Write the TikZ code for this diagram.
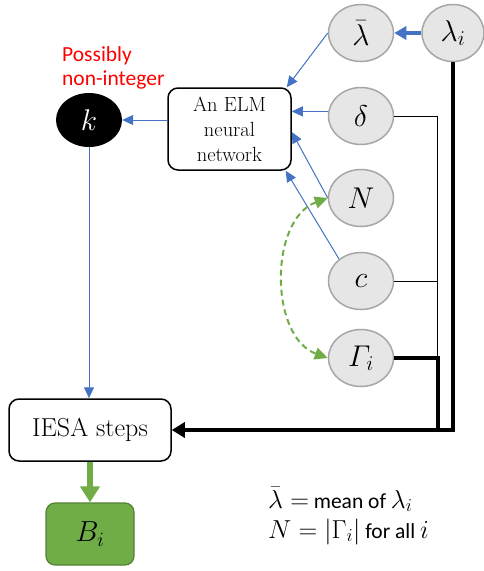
\RequirePackage{fix-cm}
\documentclass[tikz,border=0pt]{standalone}
\usepackage{amsmath}
\usepackage{fontspec}
\newfontfamily\calib{Carlito}
\usetikzlibrary{shapes.geometric,arrows.meta}
\definecolor{oblue}{HTML}{4472C4}
\definecolor{ogreen}{HTML}{70AD47}
\definecolor{dgreen}{HTML}{548235}
\definecolor{efill}{HTML}{E6E6E6}
\definecolor{egray}{HTML}{A6A6A6}
\newcommand{\lgm}[1]{{\fontsize{26}{30}\selectfont$#1$}}
\begin{document}
\begin{tikzpicture}[x=1pt,y=-1pt,
  varnode/.style={ellipse, draw=egray, line width=1.5pt, fill=efill, minimum width=65pt, minimum height=57pt, inner sep=0pt, font=\fontsize{30}{34}\selectfont},
  elmbox/.style={draw, rounded corners=10pt, line width=1.5pt, minimum width=123pt, minimum height=82pt, inner sep=0pt, align=center, font=\fontsize{20.5}{25}\selectfont},
  kdot/.style={ellipse, fill=black, text=white, minimum width=66pt, minimum height=54pt, inner sep=0pt, font=\fontsize{30}{34}\selectfont},
  iesabox/.style={draw, rounded corners=10pt, line width=1.5pt, minimum width=162pt, minimum height=62pt, inner sep=0pt, font=\fontsize{26}{30}\selectfont},
  bbox/.style={draw=dgreen, fill=ogreen, rounded corners=9pt, line width=1.2pt, minimum width=88pt, minimum height=62pt, inner sep=0pt, font=\fontsize{29}{32}\selectfont},
  redtext/.style={text=red, inner sep=0pt, anchor=base west, font=\calib\fontsize{21.5}{25}\selectfont},
  legtext/.style={inner sep=0pt, anchor=base west, font=\calib\fontsize{21.5}{25}\selectfont},
  bluearrow/.style={draw=oblue, line width=1pt, -{Triangle[length=11pt,width=10pt]}, color=oblue},
  bluethick/.style={draw=oblue, line width=4pt, -{Triangle[length=12pt,width=13pt]}, color=oblue},
  greendash/.style={draw=ogreen, line width=2pt, dash pattern=on 6pt off 4pt, {Triangle[length=13pt,width=12pt]}-{Triangle[length=13pt,width=12pt]}, color=ogreen},
  greenarrow/.style={draw=ogreen, line width=6pt, -{Triangle[length=16pt,width=19pt]}, color=ogreen},
  thinblack/.style={draw=black, line width=1pt},
  thickblack/.style={draw=black, line width=4pt, line join=miter}
]
\useasboundingbox (0,0) rectangle (483,571);
% variable nodes
\node[varnode] (lb) at (361,33) {$\bar{\lambda}$};
\node[varnode, minimum width=62pt] (li) at (453,33) {$\lambda_i$};
\node[varnode] (d) at (361,116) {$\delta$};
\node[varnode] (N) at (361,198) {$N$};
\node[varnode] (c) at (361,281) {$c$};
\node[varnode] (G) at (361,358) {$\varGamma_i$};
% main boxes
\node[elmbox] (elm) at (229.5,129) {An ELM\\neural\\network};
\node[kdot] (k) at (89,120) {$k$};
\node[iesabox] (iesa) at (90,430) {IESA steps};
\node[bbox] (B) at (90,534) {$B_i$};
% labels
\node[redtext] (p1) at (62,61) {Possibly};
\node[redtext] (p2) at (62,85) {non-integer};
\node[legtext] (l1) at (268,508) {\lgm{\bar{\lambda} =} mean of \lgm{\lambda_i}};
\node[legtext] (l2) at (268,538) {\lgm{N = |\Gamma_i|} for all \lgm{i}};
% blue connectors
\draw[bluethick] (li.west) -- (lb.east);
\draw[bluearrow] (lb.west) -- ([xshift=-5pt]elm.north east);
\draw[bluearrow] (d.172) -- (d.172 -| elm.east);
\draw[bluearrow] (N.west) -- ([yshift=-3pt]elm.east);
\draw[bluearrow] (c.135) -- ([xshift=-6pt]elm.south east);
\draw[bluearrow] (elm.west |- k.east) -- (k.east);
\draw[bluearrow] (k.south) -- (k.south |- iesa.north);
% green
\draw[greendash] (N.west) to[bend right=70] (G.west);
\draw[greenarrow] (iesa.south) -- (B.north);
% black trunk lines
\coordinate (jt) at (437,431);
\coordinate (jg) at (438,431);
\draw[thinblack] (d.east) -| (jt);
\draw[thinblack] (c.east) -- (c.east -| jt);
\draw[thickblack] (G.east) -| (jg);
\draw[thickblack, -{Triangle[length=13pt,width=15pt]}] (li.south) |- (iesa.east);
\end{tikzpicture}
\end{document}
